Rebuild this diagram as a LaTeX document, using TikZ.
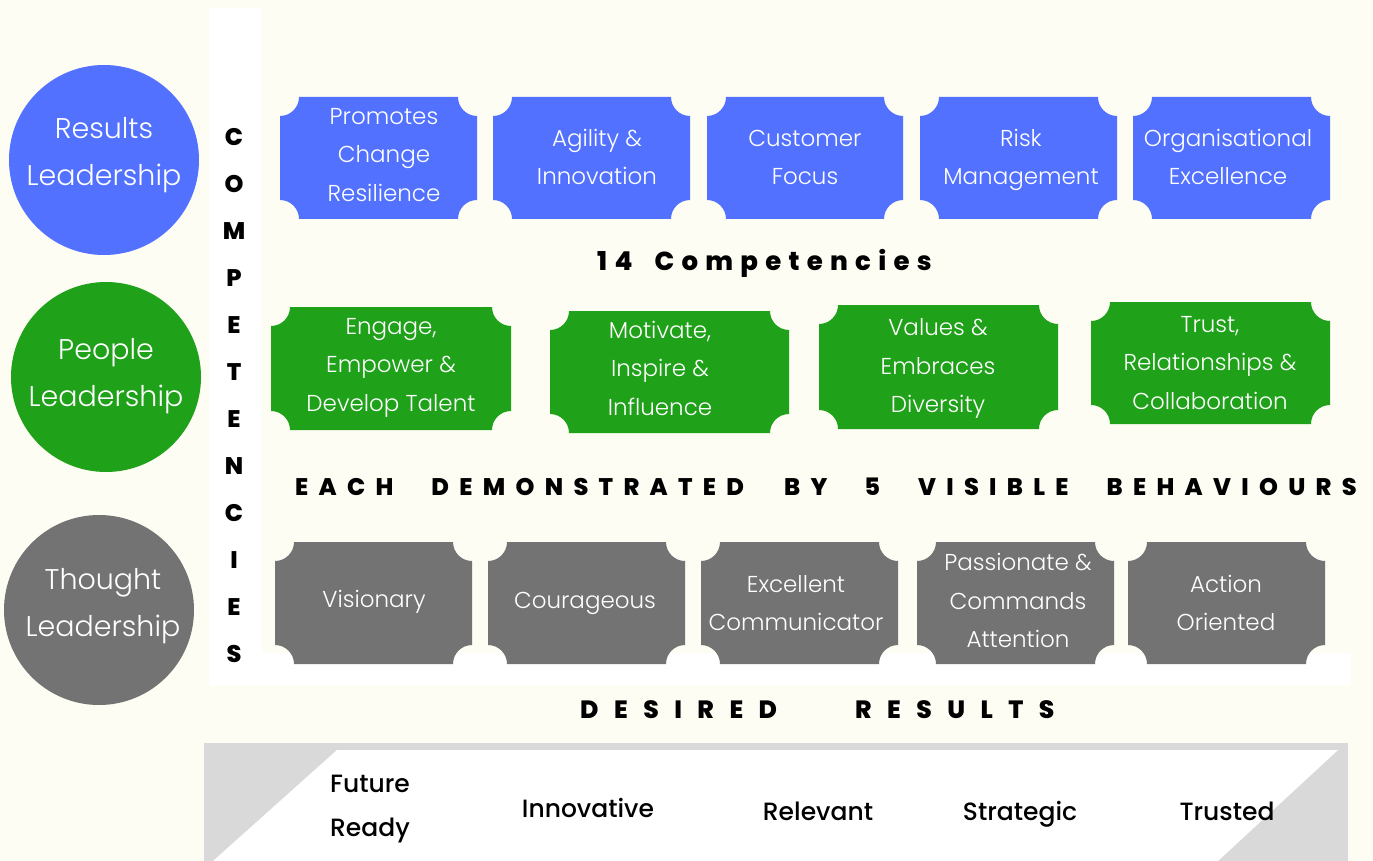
\documentclass[tikz,border=0pt]{standalone}
\usepackage{fontspec}
\setmainfont{Poppins}
\IfFontExistsTF{Poppins Light}{\newfontfamily\lightf{Poppins Light}}{\newfontfamily\lightf{Poppins}}
\IfFontExistsTF{Poppins Medium}{\newfontfamily\medf{Poppins Medium}}{\newfontfamily\medf{Poppins}}
\IfFontExistsTF{Poppins ExtraBold}{\newfontfamily\heavyf{Poppins ExtraBold}}{\newcommand\heavyf{\bfseries}}
\definecolor{bgc}{HTML}{FDFDF4}
\definecolor{blueC}{HTML}{5271FF}
\definecolor{greenC}{HTML}{20A11A}
\definecolor{grayC}{HTML}{737373}
\definecolor{lgrayC}{HTML}{D9D9D9}
\def\nr{19}
\tikzset{
  tiletext/.style={text=white, align=center, inner sep=0pt, font=\lightf\fontsize{23}{38.5}\selectfont},
  circtext/.style={text=white, align=center, inner sep=0pt, font=\lightf\fontsize{28.5}{47}\selectfont},
  circ/.style={circle, minimum size=190pt, inner sep=0pt},
  restext/.style={text=black, align=center, inner sep=0pt, font=\medf\fontsize{25}{44}\selectfont},
  headtext/.style={text=black, inner sep=0pt, anchor=base west},
}
% name, x1, y1, x2, y2, colour, text x, text y, text
\newcommand\tile[9]{%
  \fill[#6] ({#2+\nr},-#3) -- ({#4-\nr},-#3) arc[start angle=180,end angle=270,radius=\nr]
    -- (#4,{-#5+\nr}) arc[start angle=90,end angle=180,radius=\nr]
    -- ({#2+\nr},-#5) arc[start angle=0,end angle=90,radius=\nr]
    -- (#2,{-#3-\nr}) arc[start angle=270,end angle=360,radius=\nr] -- cycle;
  \node[tiletext] (#1) at (#7,-#8) {#9};}
\begin{document}
\begin{tikzpicture}[x=1pt,y=1pt]
\useasboundingbox (0,0) rectangle (1373,-861);
\fill[bgc] (0,0) rectangle (1373,-861);
\fill[white] (209,-8) rectangle (262,-685);
\fill[white] (209,-653) rectangle (1351,-685);
% circles
\node[circ, fill=blueC] (c1) at (104,-160) {};
\node[circtext] (c1t) at (104,-155.5) {Results\\Leadership};
\node[circ, fill=greenC] (c2) at (106,-377) {};
\node[circtext] (c2t) at (106,-376) {People\\Leadership};
\node[circ, fill=grayC] (c3) at (99,-610) {};
\node[circtext] (c3t) at (103,-606) {Thought\\Leadership};
% vertical word
\node[inner sep=0pt, align=center, font=\heavyf\fontsize{24}{47}\selectfont] (comp) at (234,-396)
  {C\\O\\M\\P\\E\\T\\E\\N\\C\\I\\E\\S};
% blue row
\tile{b1}{280}{97}{477}{219}{blueC}{384}{155}{Promotes\\Change\\Resilience}
\tile{b2}{493}{97}{690}{219}{blueC}{597}{157}{Agility \&\\Innovation}
\tile{b3}{707}{97}{903}{219}{blueC}{805}{157.5}{Customer\\Focus}
\tile{b4}{920}{97}{1117}{219}{blueC}{1021}{160}{Risk\\Management}
\tile{b5}{1133}{97}{1330}{219}{blueC}{1228}{157}{Organisational\\Excellence}
% green row
\tile{g1}{271}{307}{511}{430}{greenC}{391}{367.5}{Engage,\\Empower \&\\Develop Talent}
\tile{g2}{550}{311}{789}{433}{greenC}{660}{368}{Motivate,\\Inspire \&\\Influence}
\tile{g3}{819}{305}{1058}{429}{greenC}{938}{368.5}{Values \&\\Embraces\\Diversity}
\tile{g4}{1091}{302}{1330}{424}{greenC}{1210}{363}{Trust,\\Relationships \&\\Collaboration}
% gray row
\tile{t1}{275}{542}{472}{664}{grayC}{374}{602}{Visionary}
\tile{t2}{488}{542}{685}{664}{grayC}{585}{603}{Courageous}
\tile{t3}{701}{542}{898}{664}{grayC}{796}{603}{Excellent\\Communicator}
\tile{t4}{917}{542}{1114}{664}{grayC}{1018}{600.5}{Passionate \&\\Commands\\Attention}
\tile{t5}{1128}{542}{1325}{664}{grayC}{1226}{603}{Action\\Oriented}
% headings
\node[headtext, font=\heavyf\fontsize{26}{30}\selectfont] (h1) at (597,-270)
  {\addfontfeatures{LetterSpace=28}14\hspace{22pt}Competencies};
\node[headtext, font=\heavyf\fontsize{24}{30}\selectfont] (h2) at (295,-495)
  {\addfontfeatures{LetterSpace=43}EACH\hspace{38pt}DEMONSTRATED\hspace{40pt}BY\hspace{37pt}5\hspace{38pt}VISIBLE\hspace{38pt}BEHAVIOURS};
\node[headtext, font=\heavyf\fontsize{25}{30}\selectfont] (h3) at (580,-718)
  {\addfontfeatures{LetterSpace=62}DESIRED\hspace{78pt}RESULTS};
% results band
\fill[lgrayC] (204,-743) rectangle (1348,-861);
\fill[white] (337,-750) -- (1338,-750) -- (1218,-861) -- (213,-861) -- cycle;
\node[restext] (r1) at (370,-809) {Future\\Ready};
\node[restext, anchor=base] (r2) at (588,-817) {Innovative};
\node[restext, anchor=base] (r3) at (818,-820) {Relevant};
\node[restext, anchor=base] (r4) at (1020,-820) {Strategic};
\node[restext, anchor=base] (r5) at (1227,-820) {Trusted};
\end{tikzpicture}
\end{document}
